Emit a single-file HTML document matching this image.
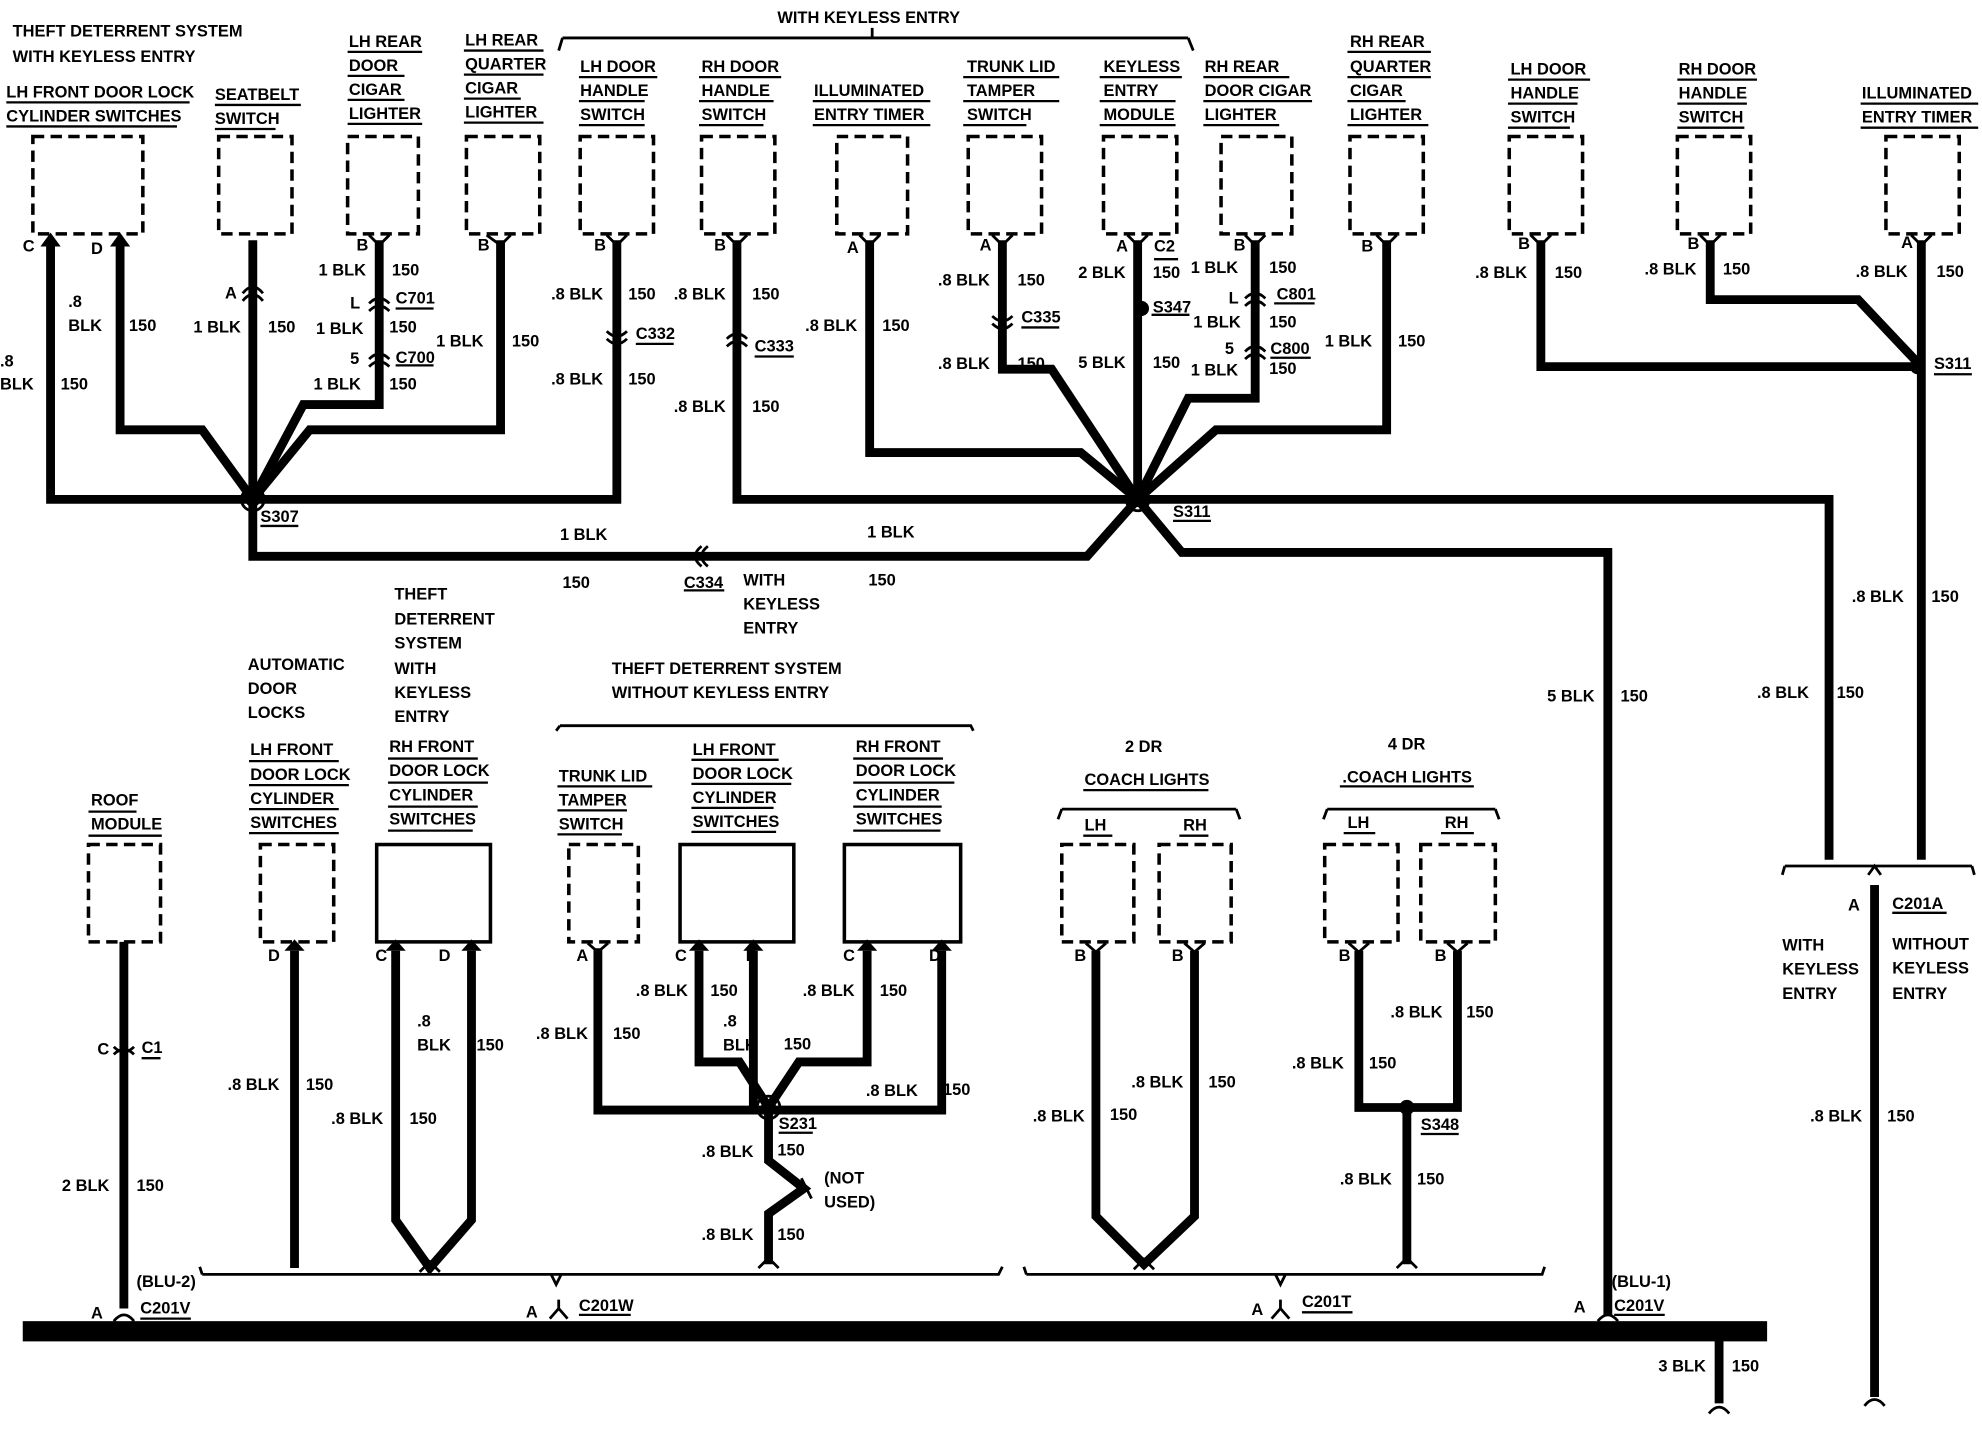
<!DOCTYPE html>
<html><head><meta charset="utf-8"><style>
html,body{margin:0;padding:0;background:#fff}
svg{display:block}
text{font-family:"Liberation Sans Narrow","Liberation Sans",sans-serif;font-weight:bold;font-size:13px;fill:#000}
.w{fill:none;stroke:#000;stroke-width:7;stroke-linejoin:miter}
.b{fill:none;stroke:#000;stroke-width:2.8;stroke-dasharray:9 5}
.u{stroke:#000;stroke-width:1.8}
.t{fill:none;stroke:#000;stroke-width:2.2}
</style></head><body>
<svg width="1982" height="1440" viewBox="0 0 1568 1139" preserveAspectRatio="none" xmlns="http://www.w3.org/2000/svg">
<g class="b">
<rect x="26" y="108" width="87" height="77"/>
<rect x="173" y="108" width="58" height="77"/>
<rect x="275" y="108" width="56" height="77"/>
<rect x="369" y="108" width="58" height="77"/>
<rect x="459" y="108" width="58" height="77"/>
<rect x="555" y="108" width="58" height="77"/>
<rect x="662" y="108" width="56" height="77"/>
<rect x="766" y="108" width="58" height="77"/>
<rect x="873" y="108" width="58" height="77"/>
<rect x="966" y="108" width="56" height="77"/>
<rect x="1068" y="108" width="58" height="77"/>
<rect x="1194" y="108" width="58" height="77"/>
<rect x="1327" y="108" width="58" height="77"/>
<rect x="1492" y="108" width="58" height="77"/>
<rect x="70" y="668" width="57" height="77"/>
<rect x="206" y="668" width="58" height="77"/>
<rect x="450" y="668" width="55" height="77"/>
<rect x="840" y="668" width="57" height="77"/>
<rect x="917" y="668" width="57" height="77"/>
<rect x="1048" y="668" width="58" height="77"/>
<rect x="1124" y="668" width="59" height="77"/>
</g>
<g fill="none" stroke="#000" stroke-width="2.8">
<rect x="298" y="668" width="90" height="77"/>
<rect x="538" y="668" width="90" height="77"/>
<rect x="668" y="668" width="92" height="77"/>
</g>
<g class="w">
<path d="M40,192 V395 H200"/>
<path d="M95,192 V340 H160 L200,395"/>
<path d="M200,190 V440 H860 L900,395"/>
<path d="M300,190 V320 H240 L200,395"/>
<path d="M396,190 V340 H245 L200,395"/>
<path d="M488,190 V395 H200"/>
<path d="M583,190 V395 H900"/>
<path d="M688,190 V358 H855 L900,395"/>
<path d="M793,190 V292 H832 L900,395"/>
<path d="M900,190 V395"/>
<path d="M993,190 V315 H940 L900,395"/>
<path d="M1097,190 V340 H962 L900,395"/>
<path d="M900,395 H1447 V680"/>
<path d="M900,395 L935,437 H1272 V1040"/>
<path d="M1219,190 V290 H1520"/>
<path d="M1353,190 V237 H1470 L1520,290"/>
<path d="M1520,190 V680"/>
<path d="M1483,700 V1105"/>
<path d="M98,745 V1035"/>
<path d="M233,752 V1003"/>
<path d="M313,752 V965 L340,1003 L373,965 V752"/>
<path d="M473,750 V878 H745 V752"/>
<path d="M553,752 V840 H585 L608,876"/>
<path d="M596,752 V876"/>
<path d="M686,752 V840 H632 L608,876"/>
<path d="M608,876 V918 L636,940 L608,960 V1000"/>
<path d="M867,752 V962 L905,1000 L945,962 V752"/>
<path d="M1075,752 V876 H1153 V752"/>
<path d="M1113,876 V1000"/>
<path d="M1360,1050 V1110"/>
</g>
<g fill="#000">
<polygon points="32,195 40,184 48,195"/><polygon points="87,195 95,184 103,195"/>
<polygon points="225,752 233,743 241,752"/><polygon points="305,752 313,743 321,752"/><polygon points="365,752 373,743 381,752"/>
<polygon points="545,752 553,743 561,752"/><polygon points="588,752 596,743 604,752"/><polygon points="678,752 686,743 694,752"/><polygon points="737,752 745,743 753,752"/>
<circle cx="200" cy="395" r="6"/><circle cx="900" cy="395" r="6"/><circle cx="1517" cy="290" r="6"/>
<circle cx="903" cy="244" r="6"/><circle cx="608" cy="876" r="6"/><circle cx="1113" cy="876" r="6"/>
<rect x="18" y="1045" width="1380" height="16"/>
</g>
<g class="t">
<circle cx="200" cy="395" r="9"/><circle cx="900" cy="395" r="9"/><circle cx="608" cy="876" r="9"/>
<path d="M292,186 L300,194 L308,186 M385,186 L396,194 L404,186 M480,186 L488,194 L496,186 M575,186 L583,194 L591,186 M680,186 L688,194 L696,186 M785,186 L793,194 L801,186 M892,186 L900,194 L908,186 M985,186 L993,194 L1001,186 M1089,186 L1097,194 L1105,186 M1211,186 L1219,194 L1227,186 M1345,186 L1353,194 L1361,186 M1512,186 L1520,194 L1528,186"/>
<path d="M465,746 L473,753 L481,746 M859,746 L867,753 L875,746 M937,746 L945,753 L953,746 M1067,746 L1075,753 L1083,746 M1145,746 L1153,753 L1161,746"/>
<path d="M192,232 Q200,222 208,232 M192,238 Q200,228 208,238"/>
<path d="M292,240 Q300,232 308,240 M292,246 Q300,238 308,246 M292,284 Q300,276 308,284 M292,290 Q300,282 308,290"/>
<path d="M480,262 Q488,270 496,262 M480,268 Q488,276 496,268"/>
<path d="M575,268 Q583,260 591,268 M575,274 Q583,266 591,274"/>
<path d="M785,250 Q793,258 801,250 M785,256 Q793,264 801,256"/>
<path d="M985,236 Q993,228 1001,236 M985,242 Q993,234 1001,242 M985,278 Q993,270 1001,278 M985,284 Q993,276 1001,284"/>
<path d="M560,432 Q550,440 560,448 M555,432 Q545,440 555,448"/>
<path d="M90,828 Q98,836 106,828 M90,834 Q98,826 106,834"/>
<path d="M634,932 L642,948"/>
<path d="M600,1003 L608,995 L616,1003 M332,1006 L340,998 L348,1006 M897,1004 L905,996 L913,1004 M1105,1003 L1113,995 L1121,1003"/>
<path d="M90,1045 Q98,1035 106,1045 M1264,1045 Q1272,1035 1280,1045 M1475,1112 Q1483,1102 1491,1112"/>
<path d="M1352,1118 Q1360,1108 1368,1118"/>
<path d="M435,1043 L442,1035 L449,1043 M442,1035 V1028 M1006,1043 L1013,1035 L1020,1043 M1013,1035 V1028"/>
<path d="M445,30 H940 M445,30 L442,40 M940,30 L944,40 M690,30 V22"/>
<path d="M443,574 H768 L770,578 M443,574 L440,578"/>
<path d="M840,640 H978 M840,640 L837,648 M978,640 L981,648"/>
<path d="M1050,640 H1183 M1050,640 L1047,648 M1183,640 L1186,648"/>
<path d="M1412,685 H1560 M1412,685 L1410,692 M1560,685 L1562,692 M1478,692 L1483,685 L1488,692"/>
<path d="M160,1008 H790 L793,1002 M160,1008 L158,1002 M436,1008 L440,1016 L444,1008"/>
<path d="M812,1008 H1220 L1222,1002 M812,1008 L810,1002 M1009,1008 L1013,1016 L1017,1008"/>
</g>
<g class="u">
<line x1="5" y1="81" x2="150" y2="81"/><line x1="5" y1="100" x2="140" y2="100"/>
<line x1="170" y1="83" x2="238" y2="83"/><line x1="170" y1="102" x2="218" y2="102"/>
<line x1="275" y1="41" x2="334" y2="41"/><line x1="275" y1="60" x2="320" y2="60"/><line x1="275" y1="79" x2="320" y2="79"/><line x1="275" y1="98" x2="334" y2="98"/>
<line x1="367" y1="40" x2="430" y2="40"/><line x1="367" y1="59" x2="430" y2="59"/><line x1="367" y1="78" x2="412" y2="78"/><line x1="367" y1="97" x2="430" y2="97"/>
<line x1="458" y1="61" x2="520" y2="61"/><line x1="458" y1="80" x2="510" y2="80"/><line x1="458" y1="99" x2="510" y2="99"/>
<line x1="553" y1="61" x2="618" y2="61"/><line x1="553" y1="80" x2="612" y2="80"/><line x1="553" y1="99" x2="604" y2="99"/>
<line x1="643" y1="80" x2="736" y2="80"/><line x1="643" y1="99" x2="736" y2="99"/>
<line x1="762" y1="61" x2="838" y2="61"/><line x1="762" y1="80" x2="838" y2="80"/><line x1="762" y1="99" x2="812" y2="99"/>
<line x1="870" y1="61" x2="935" y2="61"/><line x1="870" y1="80" x2="930" y2="80"/><line x1="870" y1="99" x2="930" y2="99"/>
<line x1="952" y1="61" x2="1020" y2="61"/><line x1="952" y1="80" x2="1038" y2="80"/><line x1="952" y1="99" x2="1012" y2="99"/>
<line x1="1066" y1="41" x2="1132" y2="41"/><line x1="1066" y1="61" x2="1132" y2="61"/><line x1="1066" y1="80" x2="1112" y2="80"/><line x1="1066" y1="99" x2="1130" y2="99"/>
<line x1="1193" y1="63" x2="1258" y2="63"/><line x1="1193" y1="82" x2="1248" y2="82"/><line x1="1193" y1="101" x2="1242" y2="101"/>
<line x1="1327" y1="63" x2="1390" y2="63"/><line x1="1327" y1="82" x2="1382" y2="82"/><line x1="1327" y1="101" x2="1380" y2="101"/>
<line x1="1472" y1="82" x2="1565" y2="82"/><line x1="1472" y1="101" x2="1565" y2="101"/>
<line x1="70" y1="642" x2="108" y2="642"/><line x1="70" y1="661" x2="128" y2="661"/>
<line x1="197" y1="602" x2="268" y2="602"/><line x1="197" y1="621" x2="276" y2="621"/><line x1="197" y1="640" x2="268" y2="640"/><line x1="197" y1="659" x2="268" y2="659"/>
<line x1="307" y1="600" x2="378" y2="600"/><line x1="307" y1="619" x2="386" y2="619"/><line x1="307" y1="638" x2="378" y2="638"/><line x1="307" y1="657" x2="374" y2="657"/>
<line x1="441" y1="622" x2="516" y2="622"/><line x1="441" y1="641" x2="496" y2="641"/><line x1="441" y1="660" x2="492" y2="660"/>
<line x1="547" y1="601" x2="616" y2="601"/><line x1="547" y1="620" x2="626" y2="620"/><line x1="547" y1="639" x2="612" y2="639"/><line x1="547" y1="658" x2="614" y2="658"/>
<line x1="675" y1="600" x2="746" y2="600"/><line x1="675" y1="619" x2="755" y2="619"/><line x1="675" y1="638" x2="745" y2="638"/><line x1="675" y1="657" x2="744" y2="657"/>
<line x1="857" y1="625" x2="956" y2="625"/><line x1="1060" y1="622" x2="1166" y2="622"/>
<line x1="857" y1="661" x2="880" y2="661"/><line x1="933" y1="661" x2="956" y2="661"/><line x1="1063" y1="659" x2="1088" y2="659"/><line x1="1140" y1="659" x2="1166" y2="659"/>
<line x1="206" y1="416" x2="236" y2="416"/><line x1="928" y1="412" x2="958" y2="412"/><line x1="1530" y1="296" x2="1560" y2="296"/>
<line x1="313" y1="244" x2="343" y2="244"/><line x1="313" y1="289" x2="343" y2="289"/>
<line x1="503" y1="272" x2="533" y2="272"/><line x1="597" y1="282" x2="628" y2="282"/><line x1="808" y1="259" x2="838" y2="259"/>
<line x1="1008" y1="240" x2="1040" y2="240"/><line x1="1005" y1="283" x2="1037" y2="283"/>
<line x1="911" y1="249" x2="941" y2="249"/><line x1="913" y1="205" x2="932" y2="205"/>
<line x1="541" y1="467" x2="573" y2="467"/><line x1="616" y1="896" x2="643" y2="896"/><line x1="1124" y1="897" x2="1154" y2="897"/>
<line x1="112" y1="837" x2="127" y2="837"/><line x1="111" y1="1043" x2="151" y2="1043"/><line x1="458" y1="1040" x2="499" y2="1040"/>
<line x1="1030" y1="1038" x2="1070" y2="1038"/><line x1="1277" y1="1040" x2="1317" y2="1040"/><line x1="1497" y1="722" x2="1540" y2="722"/>
</g>
<text x="10" y="29">THEFT DETERRENT SYSTEM</text><text x="10" y="49">WITH KEYLESS ENTRY</text>
<text x="5" y="77">LH FRONT DOOR LOCK</text><text x="5" y="96">CYLINDER SWITCHES</text>
<text x="170" y="79">SEATBELT</text><text x="170" y="98">SWITCH</text>
<text x="276" y="37">LH REAR</text><text x="276" y="56">DOOR</text><text x="276" y="75">CIGAR</text><text x="276" y="94">LIGHTER</text>
<text x="368" y="36">LH REAR</text><text x="368" y="55">QUARTER</text><text x="368" y="74">CIGAR</text><text x="368" y="93">LIGHTER</text>
<text x="615" y="18">WITH KEYLESS ENTRY</text>
<text x="459" y="57">LH DOOR</text><text x="459" y="76">HANDLE</text><text x="459" y="95">SWITCH</text>
<text x="555" y="57">RH DOOR</text><text x="555" y="76">HANDLE</text><text x="555" y="95">SWITCH</text>
<text x="644" y="76">ILLUMINATED</text><text x="644" y="95">ENTRY TIMER</text>
<text x="765" y="57">TRUNK LID</text><text x="765" y="76">TAMPER</text><text x="765" y="95">SWITCH</text>
<text x="873" y="57">KEYLESS</text><text x="873" y="76">ENTRY</text><text x="873" y="95">MODULE</text>
<text x="953" y="57">RH REAR</text><text x="953" y="76">DOOR CIGAR</text><text x="953" y="95">LIGHTER</text>
<text x="1068" y="37">RH REAR</text><text x="1068" y="57">QUARTER</text><text x="1068" y="76">CIGAR</text><text x="1068" y="95">LIGHTER</text>
<text x="1195" y="59">LH DOOR</text><text x="1195" y="78">HANDLE</text><text x="1195" y="97">SWITCH</text>
<text x="1328" y="59">RH DOOR</text><text x="1328" y="78">HANDLE</text><text x="1328" y="97">SWITCH</text>
<text x="1473" y="78">ILLUMINATED</text><text x="1473" y="97">ENTRY TIMER</text>
<text x="18" y="199">C</text><text x="72" y="201">D</text><text x="178" y="236">A</text>
<text x="282" y="198">B</text><text x="378" y="198">B</text><text x="470" y="198">B</text><text x="565" y="198">B</text><text x="670" y="200">A</text>
<text x="775" y="198">A</text><text x="883" y="199">A</text><text x="913" y="199">C2</text><text x="976" y="198">B</text><text x="1077" y="199">B</text>
<text x="1201" y="197">B</text><text x="1335" y="197">B</text><text x="1504" y="196">A</text>
<text x="277" y="244">L</text><text x="277" y="288">5</text><text x="972" y="240">L</text><text x="969" y="280">5</text>
<text x="54" y="243">.8</text><text x="54" y="262">BLK</text><text x="102" y="262">150</text>
<text x="0" y="290">.8</text><text x="0" y="308">BLK</text><text x="48" y="308">150</text>
<text x="153" y="263">1 BLK</text><text x="212" y="263">150</text>
<text x="252" y="218">1 BLK</text><text x="310" y="218">150</text><text x="313" y="240">C701</text>
<text x="250" y="264">1 BLK</text><text x="308" y="263">150</text><text x="313" y="287">C700</text>
<text x="248" y="308">1 BLK</text><text x="308" y="308">150</text>
<text x="345" y="274">1 BLK</text><text x="405" y="274">150</text>
<text x="436" y="237">.8 BLK</text><text x="497" y="237">150</text><text x="503" y="268">C332</text>
<text x="436" y="304">.8 BLK</text><text x="497" y="304">150</text>
<text x="533" y="237">.8 BLK</text><text x="595" y="237">150</text><text x="597" y="278">C333</text>
<text x="533" y="326">.8 BLK</text><text x="595" y="326">150</text>
<text x="637" y="262">.8 BLK</text><text x="698" y="262">150</text>
<text x="742" y="226">.8 BLK</text><text x="805" y="226">150</text><text x="808" y="255">C335</text>
<text x="742" y="292">.8 BLK</text><text x="805" y="292">150</text>
<text x="853" y="220">2 BLK</text><text x="912" y="220">150</text><text x="912" y="247">S347</text>
<text x="853" y="291">5 BLK</text><text x="912" y="291">150</text>
<text x="942" y="216">1 BLK</text><text x="1004" y="216">150</text><text x="1010" y="237">C801</text>
<text x="944" y="259">1 BLK</text><text x="1004" y="259">150</text><text x="1005" y="280">C800</text>
<text x="942" y="297">1 BLK</text><text x="1004" y="296">150</text>
<text x="1048" y="274">1 BLK</text><text x="1106" y="274">150</text>
<text x="1167" y="220">.8 BLK</text><text x="1230" y="220">150</text>
<text x="1301" y="217">.8 BLK</text><text x="1363" y="217">150</text>
<text x="1468" y="219">.8 BLK</text><text x="1532" y="219">150</text>
<text x="1530" y="292">S311</text>
<text x="206" y="413">S307</text><text x="928" y="409">S311</text>
<text x="443" y="427">1 BLK</text><text x="686" y="425">1 BLK</text>
<text x="445" y="465">150</text><text x="541" y="465">C334</text><text x="687" y="463">150</text>
<text x="588" y="463">WITH</text><text x="588" y="482">KEYLESS</text><text x="588" y="501">ENTRY</text>
<text x="1465" y="476">.8 BLK</text><text x="1528" y="476">150</text>
<text x="1224" y="555">5 BLK</text><text x="1282" y="555">150</text>
<text x="1390" y="552">.8 BLK</text><text x="1453" y="552">150</text>
<text x="312" y="474">THEFT</text><text x="312" y="494">DETERRENT</text><text x="312" y="513">SYSTEM</text><text x="312" y="533">WITH</text><text x="312" y="552">KEYLESS</text><text x="312" y="571">ENTRY</text>
<text x="196" y="530">AUTOMATIC</text><text x="196" y="549">DOOR</text><text x="196" y="568">LOCKS</text>
<text x="484" y="533">THEFT DETERRENT SYSTEM</text><text x="484" y="552">WITHOUT KEYLESS ENTRY</text>
<text x="72" y="637">ROOF</text><text x="72" y="656">MODULE</text>
<text x="198" y="597">LH FRONT</text><text x="198" y="617">DOOR LOCK</text><text x="198" y="636">CYLINDER</text><text x="198" y="655">SWITCHES</text>
<text x="308" y="595">RH FRONT</text><text x="308" y="614">DOOR LOCK</text><text x="308" y="633">CYLINDER</text><text x="308" y="652">SWITCHES</text>
<text x="442" y="618">TRUNK LID</text><text x="442" y="637">TAMPER</text><text x="442" y="656">SWITCH</text>
<text x="548" y="597">LH FRONT</text><text x="548" y="616">DOOR LOCK</text><text x="548" y="635">CYLINDER</text><text x="548" y="654">SWITCHES</text>
<text x="677" y="595">RH FRONT</text><text x="677" y="614">DOOR LOCK</text><text x="677" y="633">CYLINDER</text><text x="677" y="652">SWITCHES</text>
<text x="890" y="595">2 DR</text><text x="858" y="621">COACH LIGHTS</text>
<text x="1098" y="593">4 DR</text><text x="1062" y="619">.COACH LIGHTS</text>
<text x="858" y="657">LH</text><text x="936" y="657">RH</text><text x="1066" y="655">LH</text><text x="1143" y="655">RH</text>
<text x="1462" y="720">A</text><text x="1497" y="719">C201A</text>
<text x="1410" y="752">WITH</text><text x="1410" y="771">KEYLESS</text><text x="1410" y="790">ENTRY</text>
<text x="1497" y="751">WITHOUT</text><text x="1497" y="770">KEYLESS</text><text x="1497" y="790">ENTRY</text>
<text x="1432" y="887">.8 BLK</text><text x="1493" y="887">150</text>
<text x="212" y="760">D</text><text x="297" y="760">C</text><text x="347" y="760">D</text>
<text x="456" y="760">A</text><text x="534" y="760">C</text><text x="590" y="760">D</text><text x="667" y="760">C</text><text x="735" y="760">D</text>
<text x="850" y="760">B</text><text x="927" y="760">B</text><text x="1059" y="760">B</text><text x="1135" y="760">B</text>
<text x="77" y="834">C</text><text x="112" y="833">C1</text>
<text x="49" y="942">2 BLK</text><text x="108" y="942">150</text>
<text x="180" y="862">.8 BLK</text><text x="242" y="862">150</text>
<text x="330" y="812">.8</text><text x="330" y="831">BLK</text><text x="377" y="831">150</text>
<text x="262" y="889">.8 BLK</text><text x="324" y="889">150</text>
<text x="424" y="822">.8 BLK</text><text x="485" y="822">150</text>
<text x="503" y="788">.8 BLK</text><text x="562" y="788">150</text>
<text x="572" y="812">.8</text><text x="572" y="831">BLK</text><text x="620" y="830">150</text>
<text x="635" y="788">.8 BLK</text><text x="696" y="788">150</text>
<text x="685" y="867">.8 BLK</text><text x="746" y="866">150</text>
<text x="616" y="893">S231</text>
<text x="555" y="915">.8 BLK</text><text x="615" y="914">150</text>
<text x="652" y="936">(NOT</text><text x="652" y="955">USED)</text>
<text x="555" y="981">.8 BLK</text><text x="615" y="981">150</text>
<text x="817" y="887">.8 BLK</text><text x="878" y="886">150</text>
<text x="895" y="860">.8 BLK</text><text x="956" y="860">150</text>
<text x="1100" y="805">.8 BLK</text><text x="1160" y="805">150</text>
<text x="1022" y="845">.8 BLK</text><text x="1083" y="845">150</text>
<text x="1124" y="894">S348</text>
<text x="1060" y="937">.8 BLK</text><text x="1121" y="937">150</text>
<text x="72" y="1043">A</text><text x="108" y="1018">(BLU-2)</text><text x="111" y="1039">C201V</text>
<text x="416" y="1042">A</text><text x="458" y="1037">C201W</text>
<text x="990" y="1040">A</text><text x="1030" y="1034">C201T</text>
<text x="1245" y="1038">A</text><text x="1275" y="1018">(BLU-1)</text><text x="1277" y="1037">C201V</text>
<text x="1312" y="1085">3 BLK</text><text x="1370" y="1085">150</text>
</svg>
</body></html>
